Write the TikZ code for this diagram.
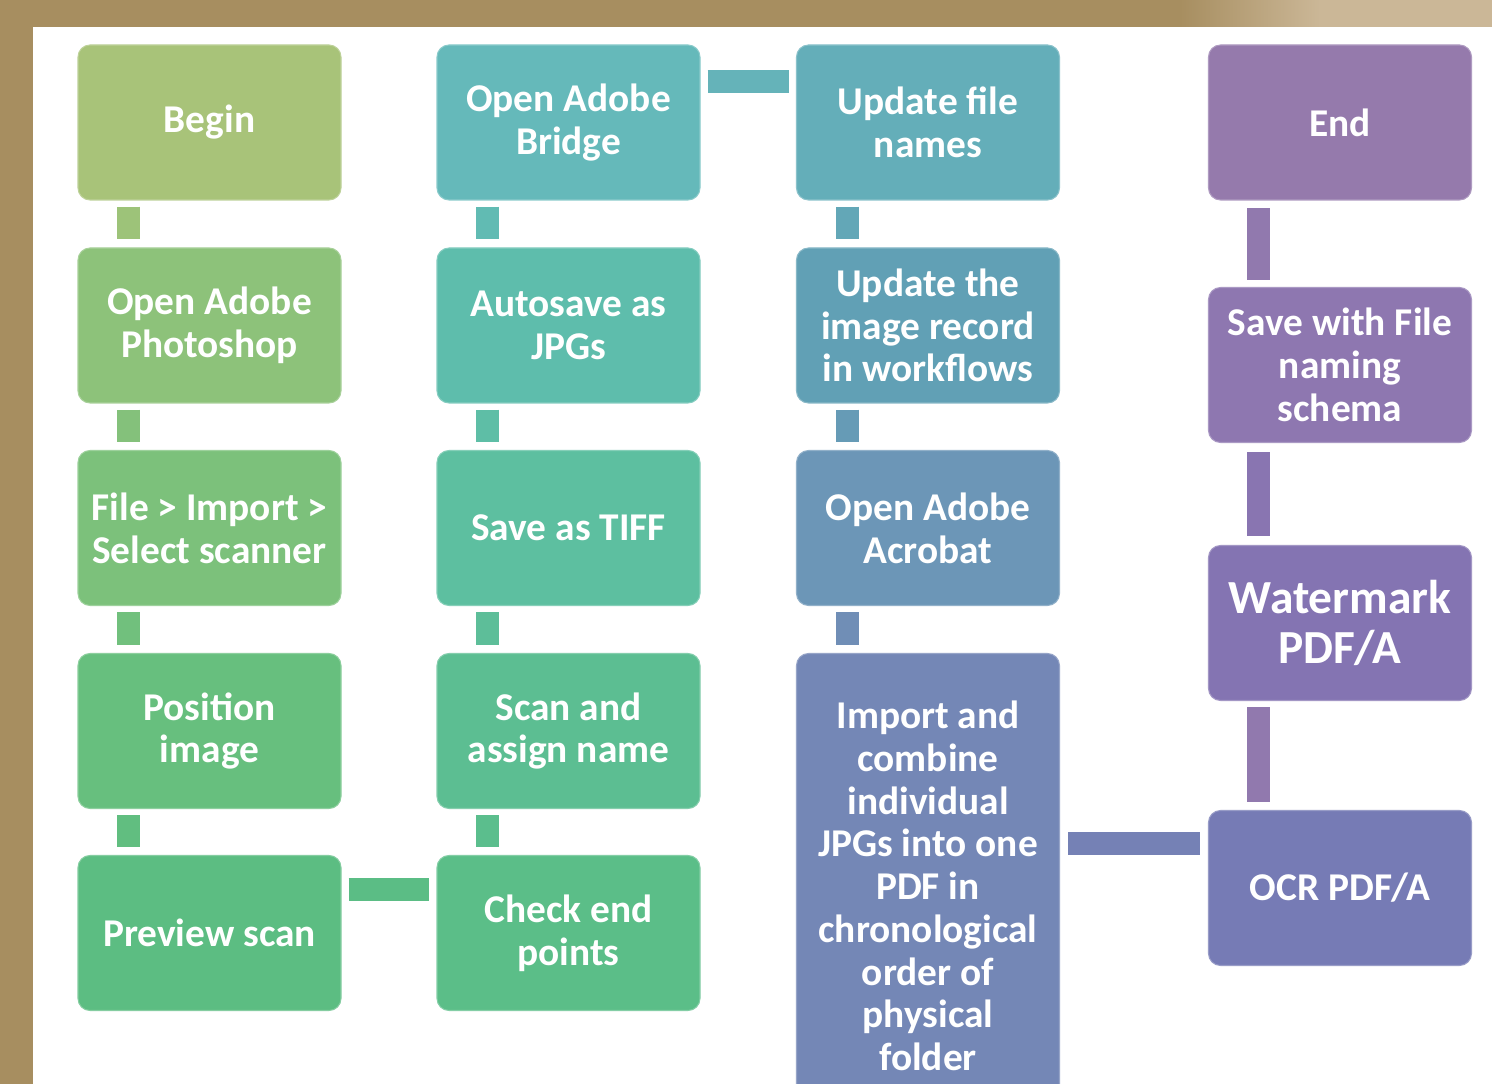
\documentclass[tikz,border=0pt]{standalone}
\usepackage{fontspec}
\setmainfont{Carlito}
\usetikzlibrary{calc}

%colours
\definecolor{tanbg}{HTML}{A78E60}
\definecolor{tanlight}{HTML}{CBB797}
\definecolor{cbegin}{HTML}{A8C379}
\definecolor{cphoto}{HTML}{8DC27A}
\definecolor{cimport}{HTML}{7CC17B}
\definecolor{cposition}{HTML}{67BF7E}
\definecolor{cpreview}{HTML}{5CBD82}
\definecolor{cbridge}{HTML}{65B9BA}
\definecolor{cautosave}{HTML}{5EBDAC}
\definecolor{ctiff}{HTML}{5DBFA0}
\definecolor{cscan}{HTML}{5CBE92}
\definecolor{ccheck}{HTML}{5BBE88}
\definecolor{cnames}{HTML}{64AEB9}
\definecolor{crecord}{HTML}{61A0B5}
\definecolor{cacrobat}{HTML}{6C96B7}
\definecolor{ccombine}{HTML}{7487B6}
\definecolor{cend}{HTML}{957AAC}
\definecolor{csave}{HTML}{8E77B0}
\definecolor{cwater}{HTML}{8474B2}
\definecolor{cocr}{HTML}{767BB5}

\tikzset{
  box/.style={rectangle, rounded corners=0.24cm, minimum width=5.26cm,
    minimum height=3.1cm, inner sep=0pt, align=center, text=white,
    fill=#1, draw=#1!75!white, line width=0.6pt,
    font=\fontsize{22.4}{24.3}\selectfont\bfseries},
  bar/.style={line width=0.46cm, draw=#1},
}

\begin{document}
\begin{tikzpicture}
\useasboundingbox (0,0) rectangle (29.84,21.68);
\clip (0,0) rectangle (29.84,21.68);

%Backdrop
\fill[tanbg] (0,0) rectangle (29.84,21.68);
\shade[left color=tanbg, right color=tanlight] (23.6,21) rectangle (26.4,21.68);
\fill[tanlight] (26.4,21) rectangle (29.84,21.68);
\fill[white] (0.66,0) rectangle (29.84,21.14);

%Scanning
\node[box=cbegin] (begin) at (4.19,19.23) {Begin};
\node[box=cphoto] (photo) at (4.19,15.17) {Open Adobe\\Photoshop};
\node[box=cimport] (select) at (4.19,11.12) {File > Import >\\Select scanner};
\node[box=cposition] (position) at (4.19,7.06) {Position\\image};
\node[box=cpreview] (preview) at (4.19,3.02) {Preview scan};

\node[box=cbridge] (bridge) at (11.37,19.23) {Open Adobe\\Bridge};
\node[box=cautosave] (autosave) at (11.37,15.17) {Autosave as\\JPGs};
\node[box=ctiff] (tiff) at (11.37,11.12) {Save as TIFF};
\node[box=cscan] (scan) at (11.37,7.06) {Scan and\\assign name};
\node[box=ccheck] (check) at (11.37,3.02) {Check end\\points};

%Files and PDF
\node[box=cnames] (names) at (18.56,19.23) {Update file\\names};
\node[box=crecord] (record) at (18.56,15.17) {Update the\\image record\\in workflows};
\node[box=cacrobat] (acrobat) at (18.56,11.12) {Open Adobe\\Acrobat};
\node[box=ccombine, minimum height=9.3cm] (combine) at (18.56,3.96)
  {Import and\\combine\\individual\\JPGs into one\\PDF in\\chronological\\order of\\physical\\folder};

\node[box=cend] (end) at (26.80,19.23) {End};
\node[box=csave] (save) at (26.80,14.38) {Save with File\\naming\\schema};
\node[box=cwater, font=\fontsize{27}{28.5}\selectfont\bfseries] (water) at (26.80,9.22) {Watermark\\PDF/A};
\node[box=cocr] (ocr) at (26.80,3.92) {OCR PDF/A};

%Links down the columns
\draw[bar=cbegin!60!cphoto] ([xshift=1.03cm,yshift=-0.12cm]begin.south west) -- ([xshift=1.03cm,yshift=0.16cm]photo.north west);
\draw[bar=cphoto!50!cimport] ([xshift=1.03cm,yshift=-0.12cm]photo.south west) -- ([xshift=1.03cm,yshift=0.16cm]select.north west);
\draw[bar=cimport!50!cposition] ([xshift=1.03cm,yshift=-0.12cm]select.south west) -- ([xshift=1.03cm,yshift=0.16cm]position.north west);
\draw[bar=cposition!50!cpreview] ([xshift=1.03cm,yshift=-0.12cm]position.south west) -- ([xshift=1.03cm,yshift=0.16cm]preview.north west);

\draw[bar=cbridge!50!cautosave] ([xshift=1.03cm,yshift=-0.12cm]bridge.south west) -- ([xshift=1.03cm,yshift=0.16cm]autosave.north west);
\draw[bar=cautosave!50!ctiff] ([xshift=1.03cm,yshift=-0.12cm]autosave.south west) -- ([xshift=1.03cm,yshift=0.16cm]tiff.north west);
\draw[bar=ctiff!50!cscan] ([xshift=1.03cm,yshift=-0.12cm]tiff.south west) -- ([xshift=1.03cm,yshift=0.16cm]scan.north west);
\draw[bar=cscan!50!ccheck] ([xshift=1.03cm,yshift=-0.12cm]scan.south west) -- ([xshift=1.03cm,yshift=0.16cm]check.north west);

\draw[bar=cnames!50!crecord] ([xshift=1.03cm,yshift=-0.12cm]names.south west) -- ([xshift=1.03cm,yshift=0.16cm]record.north west);
\draw[bar=crecord!50!cacrobat] ([xshift=1.03cm,yshift=-0.12cm]record.south west) -- ([xshift=1.03cm,yshift=0.16cm]acrobat.north west);
\draw[bar=cacrobat!50!ccombine] ([xshift=1.03cm,yshift=-0.12cm]acrobat.south west) -- ([xshift=1.03cm,yshift=0.16cm]combine.north west);

%Links up to the end
\draw[bar=csave!50!cend] ([xshift=1.02cm,yshift=0.16cm]ocr.north west) -- ([xshift=1.02cm,yshift=-0.12cm]water.south west);
\draw[bar=cwater!50!csave] ([xshift=1.02cm,yshift=0.18cm]water.north west) -- ([xshift=1.02cm,yshift=-0.18cm]save.south west);
\draw[bar=cend!50!csave] ([xshift=1.02cm,yshift=0.14cm]save.north west) -- ([xshift=1.02cm,yshift=-0.14cm]end.south west);

%Links across
\draw[bar=ccheck!50!cpreview] ([xshift=0.14cm,yshift=-0.70cm]preview.north east) -- ([xshift=-0.14cm,yshift=-0.70cm]check.north west);
\draw[bar=cbridge!50!cnames] ([xshift=0.14cm,yshift=-0.74cm]bridge.north east) -- ([xshift=-0.14cm,yshift=-0.74cm]names.north west);
\coordinate (ocrin) at ([xshift=-0.16cm,yshift=-0.68cm]ocr.north west);
\draw[bar=ccombine!50!cocr] ([xshift=0.16cm]combine.east |- ocrin) -- (ocrin);
\end{tikzpicture}
\end{document}
